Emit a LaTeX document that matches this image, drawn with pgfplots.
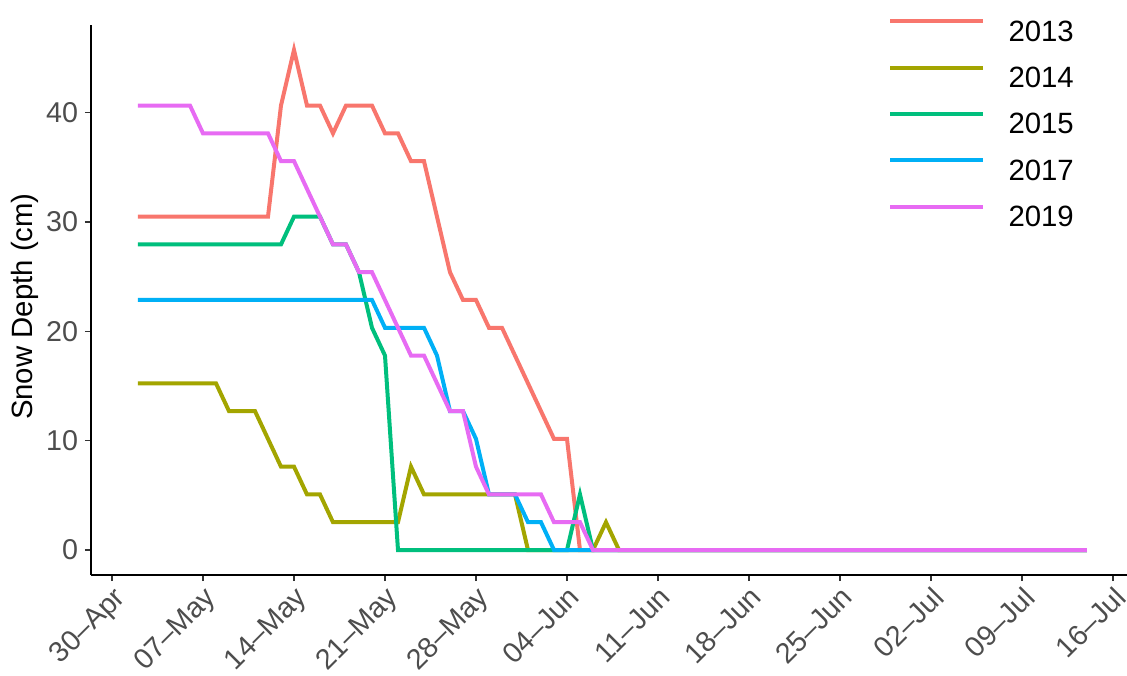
\documentclass[border=0pt]{standalone}
\usepackage{pgfplots}
\pgfplotsset{compat=1.18}
\usepackage{fontspec}
\setmainfont{Liberation Sans}
\definecolor{c13}{HTML}{F8766D}
\definecolor{c14}{HTML}{A3A500}
\definecolor{c15}{HTML}{00BF7D}
\definecolor{c17}{HTML}{00B0F6}
\definecolor{c19}{HTML}{E76BF3}
\definecolor{tickgray}{HTML}{4D4D4D}
\begin{document}
\begin{tikzpicture}
\useasboundingbox (-68.25pt,-75pt) rectangle (777pt,431.25pt);
\begin{axis}[
  at={(0pt,0pt)}, anchor=south west,
  scale only axis, width=777pt, height=412.5pt,
  xmin=-1.615, xmax=78.08, ymin=-2.286, ymax=48.006,
  axis lines=left, axis line style={-, line width=1.5pt, black},
  tick align=outside, major tick length=4.5pt,
  tick style={color=black!80, line width=1.1pt},
  xtick={0,7,...,77},
  xticklabels={30–Apr,07–May,14–May,21–May,28–May,04–Jun,11–Jun,18–Jun,25–Jun,02–Jul,09–Jul,16–Jul},
  ytick={0,10,20,30,40},
  /pgf/number format/assume math mode=true,
  ticklabel style={font=\fontsize{21.5}{25}\selectfont, text=tickgray},
  xticklabel style={rotate=45, anchor=north east, inner sep=2pt},
  yticklabel style={inner sep=5pt},
  ylabel={Snow Depth (cm)},
  ylabel style={font=\fontsize{22}{26}\selectfont, at={(axis description cs:-0.056,0.488)}, anchor=base},
  legend cell align=left,
  legend image code/.code={\draw[#1] (0pt,7.9pt) -- (69.75pt,7.9pt);},
  legend style={at={(axis description cs:0.7654,1.0154)}, anchor=north west, draw=none, fill=none,
    font=\fontsize{22}{26}\selectfont, row sep=16.9pt, nodes={inner sep=0pt},
    /tikz/every odd column/.append style={column sep=17.5pt}},
  every axis plot/.append style={line width=3pt},
]
\addplot[c13] coordinates {(2,30.48)(12,30.48)(13,40.64)(14,45.72)(15,40.64)(16,40.64)(17,38.1)(18,40.64)(19,40.64)(20,40.64)(21,38.1)(22,38.1)(23,35.56)(24,35.56)(25,30.48)(26,25.4)(27,22.86)(28,22.86)(29,20.32)(30,20.32)(31,17.78)(32,15.24)(33,12.7)(34,10.16)(35,10.16)(36,0)(75,0)};
\addlegendentry{2013}
\addplot[c14] coordinates {(2,15.24)(8,15.24)(9,12.7)(11,12.7)(12,10.16)(13,7.62)(14,7.62)(15,5.08)(16,5.08)(17,2.54)(22,2.54)(23,7.62)(24,5.08)(31,5.08)(32,0)(37,0)(38,2.54)(39,0)(75,0)};
\addlegendentry{2014}
\addplot[c15] coordinates {(2,27.94)(13,27.94)(14,30.48)(16,30.48)(17,27.94)(18,27.94)(19,25.4)(20,20.32)(21,17.78)(22,0)(35,0)(36,5.08)(37,0)(75,0)};
\addlegendentry{2015}
\addplot[c17] coordinates {(2,22.86)(20,22.86)(21,20.32)(24,20.32)(25,17.78)(26,12.7)(27,12.7)(28,10.16)(29,5.08)(31,5.08)(32,2.54)(33,2.54)(34,0)(75,0)};
\addlegendentry{2017}
\addplot[c19] coordinates {(2,40.64)(6,40.64)(7,38.1)(12,38.1)(13,35.56)(14,35.56)(15,33.02)(16,30.48)(17,27.94)(18,27.94)(19,25.4)(20,25.4)(21,22.86)(22,20.32)(23,17.78)(24,17.78)(25,15.24)(26,12.7)(27,12.7)(28,7.62)(29,5.08)(33,5.08)(34,2.54)(36,2.54)(37,0)(75,0)};
\addlegendentry{2019}
\end{axis}
\end{tikzpicture}
\end{document}
